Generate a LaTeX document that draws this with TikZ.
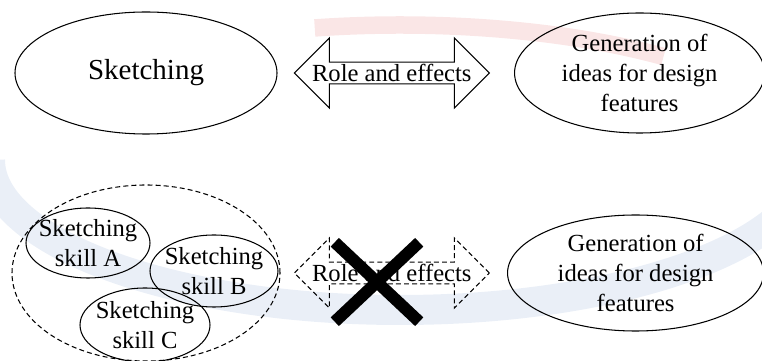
\documentclass[tikz,border=0pt]{standalone}
\usepackage{fontspec}
\setmainfont{Liberation Serif}
\newfontfamily\labelfont{Liberation Serif}
\usepackage{tikz}
\usetikzlibrary{positioning}
\usetikzlibrary{shapes.geometric, shapes.arrows, shapes.misc, positioning}

\definecolor{ringred}{RGB}{250,230,230}
\definecolor{ringblue}{RGB}{234,239,247}

\begin{document}
\begin{tikzpicture}[
  node distance=0.3cm and 0.3cm,
  idea/.style={ellipse, draw, line width=0.6pt, inner sep=0pt, align=center, font=\labelfont\fontsize{14}{17}\selectfont},
  skill/.style={idea, inner sep=-5pt, font=\labelfont\fontsize{14}{17.5}\selectfont},
  link/.style={double arrow, draw, line width=0.6pt, minimum height=3.9cm, minimum width=1.4cm, double arrow head extend=0.28cm},
  linktext/.style={font=\labelfont\fontsize{14}{17}\selectfont},
  dashes/.style={dash pattern=on 2.8pt off 1.8pt}
]
  \useasboundingbox (0,0) rectangle (15.24,7.22);

  % faint ring in the background
  \draw[ringblue, line width=0.6cm] (8,4.02) ++(180:8.2cm and 3cm) arc[start angle=180, end angle=360, x radius=8.2cm, y radius=3cm];
  \draw[ringred, line width=0.35cm] (8,4.02) ++(50:8.2cm and 2.7cm) arc[start angle=50, end angle=102, x radius=8.2cm, y radius=2.7cm];

  % Sketching as a whole
  \node[idea, minimum width=5.24cm, minimum height=2.44cm, font=\labelfont\fontsize{16.5}{20}\selectfont] (sketch) at (2.92,5.76) {Sketching};
  \node[link, right=0.32cm of sketch, label={[linktext]center:Role and effects}] (role) {};
  \node[idea, minimum width=5.0cm, minimum height=2.4cm, right=0.48cm of role] (gen) {Generation of\\ideas for design\\features};

  % Single sketching skills
  \node[ellipse, draw, dashes, line width=0.6pt, minimum width=5.36cm, minimum height=3.52cm] (skills) at (2.92,1.76) {};
  \node[skill, minimum width=2.48cm, minimum height=1.40cm] (skillA) at (1.76,2.36) {Sketching\\skill A};
  \node[skill, minimum width=2.56cm, minimum height=1.44cm] (skillB) at (4.28,1.80) {Sketching\\skill B};
  \node[skill, minimum width=2.60cm, minimum height=1.48cm] (skillC) at (2.90,0.72) {Sketching\\skill C};
  \node[link, dashes, right=0.26cm of skills, label={[linktext]center:Role and effects}] (norole) {};
  \node[idea, minimum width=5.12cm, minimum height=2.32cm, right=0.34cm of norole] (gen2) {Generation of\\ideas for design\\features};
  \node[cross out, draw, line width=6.8pt, minimum width=1.45cm, minimum height=1.35cm] (nope) at (7.54,1.58) {};
\end{tikzpicture}
\end{document}
